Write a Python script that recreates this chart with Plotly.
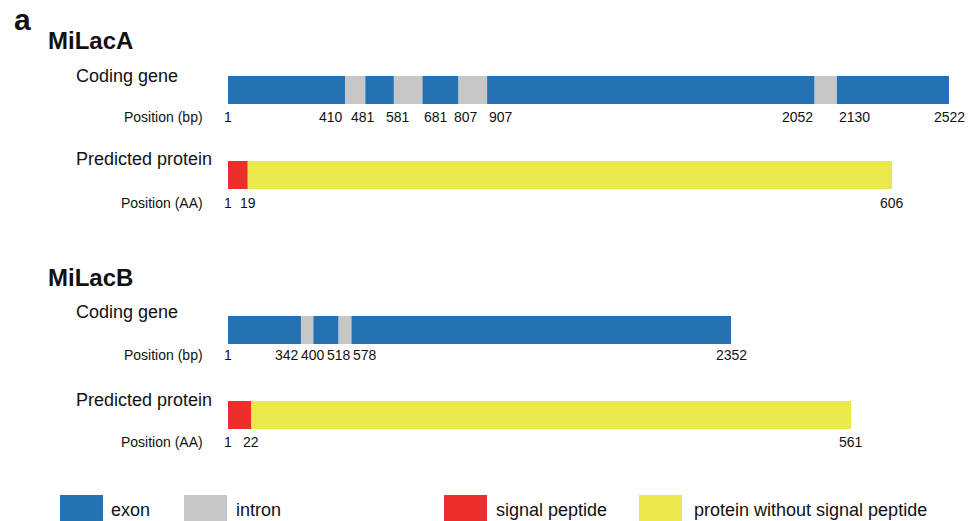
import plotly.graph_objects as go

W, H = 972, 521

# ---- data: segment boundaries (bp for genes, amino acids for proteins) ----
A_GENE_POS = [1, 410, 481, 581, 681, 807, 907, 2052, 2130, 2522]
A_PROT_POS = [1, 19, 606]
B_GENE_POS = [1, 342, 400, 518, 578, 2352]
B_PROT_POS = [1, 22, 561]

GENE_PARTS = ["exon", "intron"]                       # alternate along a gene
PROT_PARTS = ["signal peptide", "protein without signal peptide"]

# ---- styling ----
FONT = "Arial, Liberation Sans, Helvetica, sans-serif"
COLORS = {
    "exon": "#2471b3",
    "intron": "#c7c7c7",
    "signal peptide": "#ee2e2a",
    "protein without signal peptide": "#ebe84b",
}

# horizontal placement of each tick label relative to its boundary
A_GENE_ANCHOR = ["center", "right", "center", "center", "left",
                 "center", "left", "right", "left", "center"]
A_GENE_NUDGE = [0, 0, -2, 4, 0, 7, 0, 0, 0, 0]
A_PROT_ANCHOR = ["center", "center", "center"]
B_GENE_ANCHOR = ["center", "right", "center", "center", "left", "center"]
B_PROT_ANCHOR = ["center", "center", "center"]

BAR_LEFT = 228      # pixel where every track starts
BAR_H = 28          # bar thickness (px)

tracks = [
    dict(pos=A_GENE_POS, parts=GENE_PARTS, anchors=A_GENE_ANCHOR, nudge=A_GENE_NUDGE,
         right=949, yc=90, ylab=117, title="Coding gene", ytitle=76,
         axis="Position (bp)"),
    dict(pos=A_PROT_POS, parts=PROT_PARTS, anchors=A_PROT_ANCHOR, nudge=None,
         right=892, yc=175, ylab=203, title="Predicted protein", ytitle=159,
         axis="Position (AA)"),
    dict(pos=B_GENE_POS, parts=GENE_PARTS, anchors=B_GENE_ANCHOR, nudge=None,
         right=731, yc=330, ylab=355, title="Coding gene", ytitle=312,
         axis="Position (bp)"),
    dict(pos=B_PROT_POS, parts=PROT_PARTS, anchors=B_PROT_ANCHOR, nudge=None,
         right=851, yc=415, ylab=442, title="Predicted protein", ytitle=400,
         axis="Position (AA)"),
]

fig = go.Figure()
annotations = []
layout_axes = {}


def text(x, y, s, size, bold=False, xanchor="left", xref="paper", xshift=0):
    annotations.append(dict(
        x=x, y=y, xref=xref, yref="y", text=f"<b>{s}</b>" if bold else s,
        showarrow=False, xanchor=xanchor, yanchor="middle", xshift=xshift,
        font=dict(family=FONT, size=size, color="#111111"),
    ))


for i, tr in enumerate(tracks, start=1):
    xa = "x" if i == 1 else f"x{i}"
    pos = tr["pos"]
    starts = pos[:-1]
    lengths = [b - a for a, b in zip(pos[:-1], pos[1:])]
    kinds = [tr["parts"][k % 2] for k in range(len(lengths))]
    fig.add_trace(go.Bar(
        orientation="h",
        y=[tr["yc"]] * len(lengths),
        x=lengths,
        base=starts,
        width=[BAR_H] * len(lengths),
        marker=dict(color=[COLORS[k] for k in kinds], line=dict(width=0)),
        xaxis=xa, yaxis="y",
        showlegend=False, hoverinfo="skip",
    ))
    layout_axes["xaxis" if i == 1 else f"xaxis{i}"] = dict(
        domain=[BAR_LEFT / W, tr["right"] / W],
        range=[pos[0], pos[-1]],
        anchor="y", visible=False, fixedrange=True,
    )
    # boundary labels
    nudge = tr["nudge"] or [0] * len(pos)
    for v, anc, dx in zip(pos, tr["anchors"], nudge):
        text(v, tr["ylab"], str(v), 14, xanchor=anc, xref=xa, xshift=dx)
    # track title and axis caption
    text(74 / W, tr["ytitle"], tr["title"], 18)
    text(205 / W, tr["ylab"], tr["axis"], 14, xanchor="right")

# panel letter and gene names
text(12 / W, 19, "a", 30, bold=True)
text(46 / W, 40, "MiLacA", 24, bold=True)
text(46 / W, 277, "MiLacB", 24, bold=True)

# custom legend
shapes = []
legend_items = [
    ("exon", 60, 103, 109),
    ("intron", 184, 227, 234),
    ("signal peptide", 444, 487, 494),
    ("protein without signal peptide", 639, 682, 692),
]
for name, x0, x1, xt in legend_items:
    shapes.append(dict(type="rect", xref="paper", yref="y",
                       x0=x0 / W, x1=x1 / W, y0=495, y1=522,
                       fillcolor=COLORS[name], line=dict(width=0)))
    text(xt / W, 510, name, 18)

fig.update_layout(
    width=W, height=H,
    margin=dict(l=0, r=0, t=0, b=0),
    paper_bgcolor="white", plot_bgcolor="rgba(0,0,0,0)",
    barmode="overlay",
    yaxis=dict(range=[H, 0], domain=[0, 1], visible=False, fixedrange=True),
    annotations=annotations,
    shapes=shapes,
    **layout_axes,
)

fig.write_html("out.html")
